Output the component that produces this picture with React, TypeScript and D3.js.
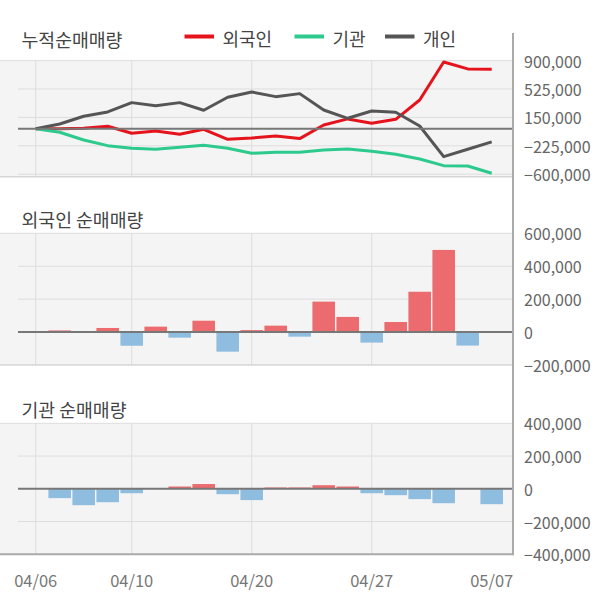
import React from 'react';
import * as d3 from 'd3';

const dates = ['04/06','04/07','04/08','04/09','04/10','04/13','04/14','04/16','04/17','04/20','04/21','04/22','04/23','04/24','04/27','04/28','04/29','05/04','05/06','05/07'];
const labelDates = ['04/06','04/10','04/20','04/27','05/07'];
const gridDates = ['04/06','04/10','04/20','04/27'];

const seriesNames = ['외국인','기관','개인'];
const cumForeign = [0, 0, 7000, 33000, -60000, -29000, -73000, -7000, -139000, -122000, -95000, -130000, 50000, 130000, 72000, 125000, 380000, 882000, 790000, 786000];
const cumInst = [0, -46000, -148000, -223000, -258000, -271000, -244000, -218000, -258000, -324000, -310000, -310000, -280000, -267000, -297000, -337000, -399000, -487000, -491000, -588000];
const cumIndiv = [0, 63000, 165000, 222000, 345000, 305000, 345000, 244000, 416000, 486000, 424000, 464000, 248000, 138000, 235000, 218000, 37000, -368000, -271000, -174000];

const netForeign = [0, 10000, 0, 25000, -83000, 33000, -34000, 69000, -119000, 12000, 39000, -28000, 185000, 92000, -64000, 61000, 245000, 499000, -82000, 0];
const netInst = [0, -57000, -100000, -82000, -27000, 0, 14000, 29000, -33000, -69000, 8000, 8000, 22000, 14000, -27000, -39000, -63000, -88000, 0, -94000];

const topTicks = [900000, 525000, 150000, -225000, -600000];
const midTicks = [600000, 400000, 200000, 0, -200000];
const botTicks = [400000, 200000, 0, -200000, -400000];

const FONT = '"Noto Sans CJK KR", "Noto Sans", sans-serif';
const lineColors = ['#e5141c', '#2dca8d', '#555555'];
const POS = '#eb6b6e';
const NEG = '#8fbde0';
const BG = '#f4f4f4';
const GRID = '#dddddd';

const W = 600, H = 604;
const plotRight = 513;
const innerLeft = 18;

const x = d3.scalePoint<string>().domain(dates).range([35.7, 491.7]);
const barW = x.step() * 0.94;

const fmt = d3.format(',');

function Panel({ y, ticks, top, bottom, children, bottomAxis }: any) {
  return (
    <g>
      <rect x={0} y={top} width={plotRight} height={bottom - top} fill={BG} />
      {gridDates.map(d => (
        <line key={d} x1={x(d)} x2={x(d)} y1={top} y2={bottom} stroke={GRID} strokeWidth={1} />
      ))}
      {ticks.filter((t: number) => t !== 0 && y(t) > top + 2 && y(t) < bottom - 2).map((t: number) => (
        <line key={t} x1={innerLeft} x2={plotRight} y1={y(t)} y2={y(t)} stroke={GRID} strokeWidth={1} />
      ))}
      <line x1={0} x2={plotRight} y1={top} y2={top} stroke={GRID} strokeWidth={1} />
      {children}
      <line x1={innerLeft} x2={plotRight} y1={y(0)} y2={y(0)} stroke="#777" strokeWidth={2} />
      <line x1={0} x2={plotRight} y1={bottom} y2={bottom} stroke={bottomAxis ? '#aaa' : '#d6d6d6'} strokeWidth={bottomAxis ? 2 : 1.5} />
      {ticks.map((t: number) => (
        <text key={'l' + t} x={524} y={y(t)} dominantBaseline="central" fontSize={16} fill="#666" fontFamily={FONT}>{fmt(t)}</text>
      ))}
    </g>
  );
}

function Bars({ y, values }: any) {
  return (
    <g>
      {values.map((v: number, i: number) => v === 0 ? null : (
        <rect key={i} x={(x(dates[i]) as number) - barW / 2} width={barW}
          y={Math.min(y(v), y(0))} height={Math.abs(y(v) - y(0))}
          fill={v > 0 ? POS : NEG} />
      ))}
    </g>
  );
}

export default function App() {
  const yTop = d3.scaleLinear().domain([-633000, 900000]).range([176.7, 60.6]);
  const yMid = d3.scaleLinear().domain([-200000, 600000]).range([365, 233.3]);
  const yBot = d3.scaleLinear().domain([-400000, 400000]).range([554.3, 423.3]);

  const line = d3.line<number>().x((_, i) => x(dates[i]) as number).y(v => yTop(v));
  const cumSeries = [cumForeign, cumInst, cumIndiv];

  const legendX = [184.5, 294.5, 385];

  return (
    <svg width={W} height={H} style={{ position: 'absolute', left: 0, top: 0 }} fontFamily={FONT}>
      <rect width={W} height={H} fill="#fff" />
      {/* titles */}
      <text x={21.5} y={38.5} dominantBaseline="central" fontSize={18.3} fill="#444">누적순매매량</text>
      <text x={21.5} y={218.5} dominantBaseline="central" fontSize={18.3} fill="#444">외국인 순매매량</text>
      <text x={21.5} y={408.5} dominantBaseline="central" fontSize={18.3} fill="#444">기관 순매매량</text>

      {/* legend */}
      {seriesNames.map((n, i) => (
        <g key={n}>
          <line x1={legendX[i]} x2={legendX[i] + 29.5} y1={36.5} y2={36.5} stroke={lineColors[i]} strokeWidth={4} />
          <text x={legendX[i] + 38} y={38} dominantBaseline="central" fontSize={18} fill="#444">{n}</text>
        </g>
      ))}

      <Panel y={yTop} ticks={topTicks} top={60.6} bottom={176.7}>
        {cumSeries.map((s, i) => (
          <path key={i} d={line(s) as string} fill="none" stroke={lineColors[i]} strokeWidth={3} strokeLinejoin="round" />
        ))}
      </Panel>

      <Panel y={yMid} ticks={midTicks} top={233.3} bottom={365}>
        <Bars y={yMid} values={netForeign} />
      </Panel>

      <Panel y={yBot} ticks={botTicks} top={423.3} bottom={554.3} bottomAxis>
        <Bars y={yBot} values={netInst} />
      </Panel>

      {/* vertical axis line */}
      <line x1={plotRight} x2={plotRight} y1={33} y2={555.3} stroke="#aaa" strokeWidth={2} />

      {/* x labels */}
      {labelDates.map(d => (
        <text key={d} x={x(d)} y={579.5} textAnchor="middle" dominantBaseline="central" fontSize={16.5} fill="#777">{d}</text>
      ))}
    </svg>
  );
}
